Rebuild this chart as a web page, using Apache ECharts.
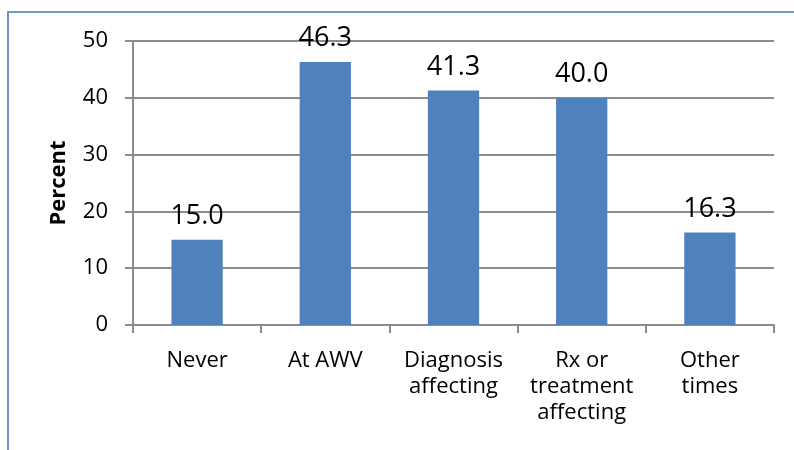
<!DOCTYPE html>
<html>
<head>
<meta charset="utf-8">
<script src="https://cdn.jsdelivr.net/npm/echarts@6/dist/echarts.min.js"></script>
<style>
  html, body { margin: 0; padding: 0; background: #fff; }
  #frame { position: absolute; left: 7px; top: 11px; width: 800px; height: 450px;
           border-left: 2px solid #6f98cf; border-top: 2px solid #6f98cf; box-sizing: border-box; }
  #chart { position: absolute; left: 0; top: 0; width: 794px; height: 450px; }
</style>
</head>
<body>
<div id="frame"></div>
<div id="chart"></div>
<script>
// When survey respondents report discussing the topic
const categories = ['Never', 'At AWV', 'Diagnosis\naffecting', 'Rx or\ntreatment\naffecting', 'Other\ntimes'];
const percentValues = [15.0, 46.3, 41.3, 40.0, 16.3];
const yTicks = { min: 0, max: 50, interval: 10 };

const chart = echarts.init(document.getElementById('chart'), null, { renderer: 'canvas' });
const fontFamily = 'Open Sans';

chart.setOption({
  animation: false,
  grid: { left: 133, right: 20, top: 41, bottom: 125 },
  xAxis: {
    type: 'category',
    data: categories,
    axisLine: { lineStyle: { color: '#8c8c8c', width: 2 } },
    axisTick: { show: true, length: 8, lineStyle: { color: '#8c8c8c', width: 2 } },
    axisLabel: { color: '#000', fontSize: 22, fontFamily, lineHeight: 26, margin: 23, interval: 0 }
  },
  yAxis: {
    type: 'value',
    min: yTicks.min, max: yTicks.max, interval: yTicks.interval,
    name: 'Percent',
    nameLocation: 'middle',
    nameGap: 63,
    nameTextStyle: { color: '#000', fontSize: 22, fontWeight: 'bold', fontFamily },
    axisLine: { show: true, lineStyle: { color: '#8c8c8c', width: 2 } },
    axisTick: { show: true, length: 8, lineStyle: { color: '#8c8c8c', width: 2 } },
    splitLine: { lineStyle: { color: '#8c8c8c', width: 2 } },
    axisLabel: { color: '#000', fontSize: 22, fontFamily, margin: 25 }
  },
  series: [{
    type: 'bar',
    data: percentValues,
    barWidth: '40%',
    itemStyle: { color: '#4f81bd' },
    label: {
      show: true, position: 'top', distance: 10,
      color: '#000', fontSize: 27, fontFamily,
      formatter: p => p.value.toFixed(1)
    }
  }]
});
</script>
</body>
</html>
